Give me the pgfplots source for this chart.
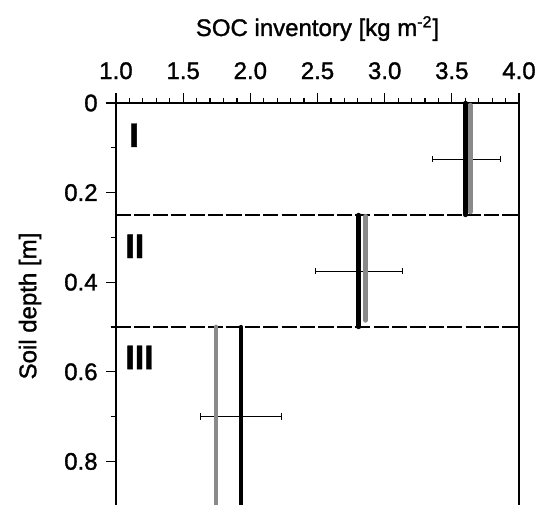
\documentclass[border=0pt]{standalone}
\usepackage{fontspec}
\setmainfont{Liberation Sans}[FakeBold=1.3]
\usepackage{pgfplots}
\pgfplotsset{compat=1.18}
\definecolor{lgray}{RGB}{138,138,138}
\begin{document}
\fontsize{12}{14.4}\selectfont
\begin{tikzpicture}
\begin{axis}[
  name=ax,
  scale only axis,
  width=201.5pt, height=224pt,
  xmin=1, xmax=4, ymin=0, ymax=1,
  y dir=reverse,
  xtick={1,1.5,2,2.5,3,3.5,4},
  ytick={0,0.2,0.4,0.6,0.8},
  minor x tick num=4,
  minor y tick num=1,
  xtick pos=upper, xticklabel pos=upper,
  ytick pos=left, yticklabel pos=left,
  tick align=outside,
  major tick length=5pt,
  minor tick length=2.7pt,
  axis line style={line width=0.7pt},
  every tick/.style={black, line width=0.6pt},
  /pgf/number format/assume math mode=true,
  tick label style={font=\fontsize{12}{14.4}\selectfont},
  xticklabel style={/pgf/number format/fixed, /pgf/number format/fixed zerofill, /pgf/number format/precision=1, anchor=base, yshift=7pt},
  clip=false,
]
% error bars
\addplot[draw=none, mark=none, forget plot, error bars/.cd, x dir=both, x explicit, error mark=|,
  error bar style={draw=black, line width=0.5pt, solid},
  error mark options={draw=black, mark size=1.6pt, line width=0.5pt}]
  coordinates {(3.608,0.125) +- (0.252,0) (2.806,0.375) +- (0.324,0) (1.93,0.70) +- (0.30,0)};
% layer boundaries
\addplot[black, line width=0.85pt, dash pattern=on 7.6pt off 1.6pt] coordinates {(1,0.25) (4,0.25)};
\addplot[black, line width=0.85pt, dash pattern=on 7.6pt off 1.6pt] coordinates {(1,0.5) (4,0.5)};
% layer I
\addplot[lgray, line width=2.4pt, line cap=round] coordinates {(3.637,0.005) (3.637,0.243)};
\addplot[black, line width=2.2pt, line cap=round] coordinates {(3.602,0) (3.602,0.25)};
% layer II
\addplot[lgray, line width=2.4pt, line cap=round] coordinates {(2.858,0.253) (2.858,0.485)};
\addplot[black, line width=2.2pt, line cap=round] coordinates {(2.806,0.25) (2.806,0.5)};
% layer III
\addplot[lgray, line width=2.4pt, line cap=round] coordinates {(1.745,0.5) (1.745,1)};
\addplot[black, line width=2.2pt, line cap=round] coordinates {(1.93,0.5) (1.93,1)};
\node[anchor=base west, inner sep=0pt, font=\fontsize{17}{20}\selectfont\bfseries] at (axis cs:1.097,0.098) {I};
\node[anchor=base west, inner sep=0pt, font=\fontsize{17}{20}\selectfont\bfseries] at (axis cs:1.067,0.346) {II};
\node[anchor=base west, inner sep=0pt, font=\fontsize{17}{20}\selectfont\bfseries] at (axis cs:1.067,0.594) {III};
\end{axis}
\node[anchor=base] at ([yshift=33.5pt]ax.north) {SOC inventory [kg m\textsuperscript{-2}]};
\node[rotate=90, anchor=center] at ([xshift=-43pt,yshift=-101.5pt]ax.north west) {Soil depth [m]};
\pgfresetboundingbox
\useasboundingbox ([xshift=-58pt,yshift=51.5pt]ax.north west) rectangle ([xshift=12pt,yshift=-200.5pt]ax.north east);
\end{tikzpicture}
\end{document}
